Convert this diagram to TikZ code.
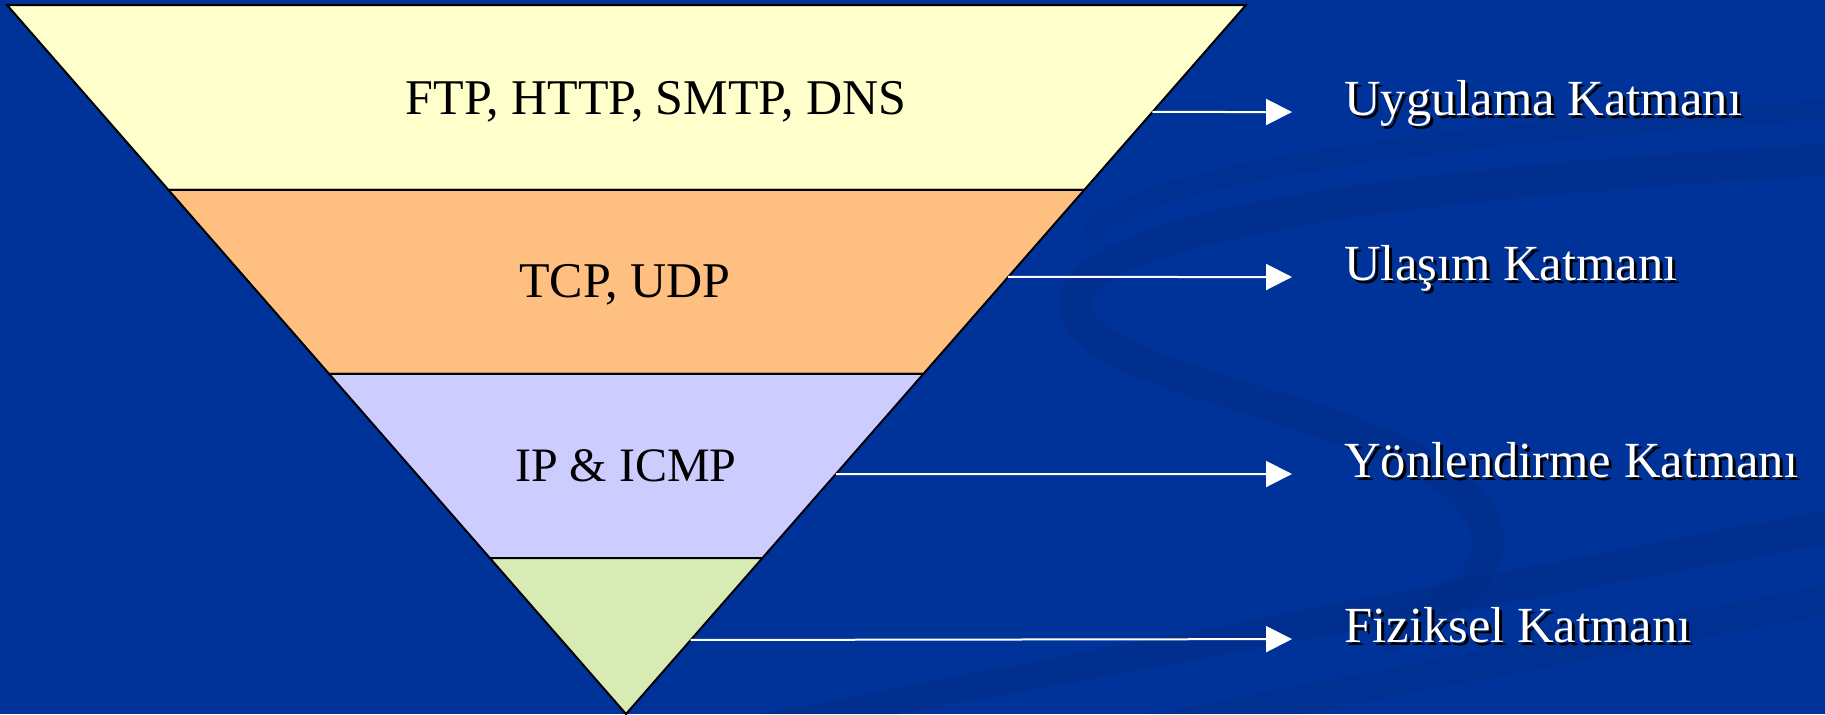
\documentclass[tikz,border=0pt]{standalone}
\usepackage{fontspec}
\setmainfont{Liberation Serif}
\usetikzlibrary{arrows.meta,calc,positioning}
\definecolor{bgblue}{HTML}{003399}
\definecolor{swirl}{HTML}{002C85}
\definecolor{appfill}{HTML}{FFFFCC}
\definecolor{transfill}{HTML}{FFBF80}
\definecolor{netfill}{HTML}{CCCCFF}
\definecolor{physfill}{HTML}{D8EBB5}

\begin{document}
\begin{tikzpicture}[
        x=0.5pt, y=-0.5pt,
        band/.style={draw=black, line width=1pt, line join=miter},
        proto/.style={font=\fontsize{25}{30}\selectfont, text=black, inner sep=0pt, anchor=base},
        tag/.style={font=\fontsize{25.3}{30}\selectfont, text=white, inner sep=0pt, anchor=west, text height=0.6em, text depth=0.25em},
        tagshadow/.style={tag, text=black, shift={(3,3)}},
        line/.style={draw=white, line width=1pt, -{Triangle[length=13pt, width=13pt]}, shorten >=26pt}
    ]
        % Background
        \useasboundingbox (0,0) rectangle (1825,714);
        \fill[bgblue] (0,0) rectangle (1825,714);
        \draw[swirl, line width=16pt, opacity=0.45] (1825,160) .. controls (1450,180) and (1090,220) .. (1075,300) .. controls (1060,380) and (1400,410) .. (1470,500) .. controls (1520,560) and (1460,600) .. (1380,640);
        \draw[swirl, line width=10pt, opacity=0.35] (1825,110) .. controls (1500,130) and (1110,170) .. (1090,240);
        \fill[swirl, opacity=0.45] (760,714) -- (1825,510) -- (1825,545) -- (900,714) -- cycle;
        \fill[swirl, opacity=0.35] (1150,714) -- (1825,585) -- (1825,615) -- (1300,714) -- cycle;

        % Triangle corners
        \coordinate (tl) at (7,5);
        \coordinate (tr) at (1246,5);
        \coordinate (apex) at (626,714);
        \coordinate (l1) at ($(tl)!0.2609!(apex)$);
        \coordinate (r1) at ($(tr)!0.2609!(apex)$);
        \coordinate (l2) at ($(tl)!0.5204!(apex)$);
        \coordinate (r2) at ($(tr)!0.5204!(apex)$);
        \coordinate (l3) at ($(tl)!0.7800!(apex)$);
        \coordinate (r3) at ($(tr)!0.7800!(apex)$);

        % Layers
        \draw[band, fill=appfill] (tl) -- (tr) -- (r1) -- (l1) -- cycle;
        \draw[band, fill=transfill] (l1) -- (r1) -- (r2) -- (l2) -- cycle;
        \draw[band, fill=netfill] (l2) -- (r2) -- (r3) -- (l3) -- cycle;
        \draw[band, fill=physfill] (l3) -- (r3) -- (apex) -- cycle;

        % Protocols
        \node[proto] (ftp) at (656,114) {FTP, HTTP, SMTP, DNS};
        \node[proto] (tcp) at (625,297) {TCP, UDP};
        \node[proto, font=\fontsize{24}{30}\selectfont] (ip) at (626,481) {IP \& ICMP};

        % Arrow starts on the right edge
        \coordinate (e1) at ($(tr)!0.1509!(apex)$);
        \coordinate (e2) at ($(tr)!0.3836!(apex)$);
        \coordinate (e3) at ($(tr)!0.6615!(apex)$);
        \coordinate (e4) at ($(tr)!0.8956!(apex)$);

        % Layer names
        \node[tagshadow] at (1344,112) {Uygulama Katmanı};
        \node[tag] (app) at (1344,112) {Uygulama Katmanı};
        \node[tagshadow] at (1344,277) {Ulaşım Katmanı};
        \node[tag] (trans) at (1344,277) {Ulaşım Katmanı};
        \node[tagshadow] at (1344,474) {Yönlendirme Katmanı};
        \node[tag] (net) at (1344,474) {Yönlendirme Katmanı};
        \node[tagshadow] at (1344,639) {Fiziksel Katmanı};
        \node[tag] (phys) at (1344,639) {Fiziksel Katmanı};

        % Connections
        \draw[line] (e1) -- (app.west);
        \draw[line] (e2) -- (trans.west);
        \draw[line] (e3) -- (net.west);
        \draw[line] (e4) -- (phys.west);
    \end{tikzpicture}
\end{document}
